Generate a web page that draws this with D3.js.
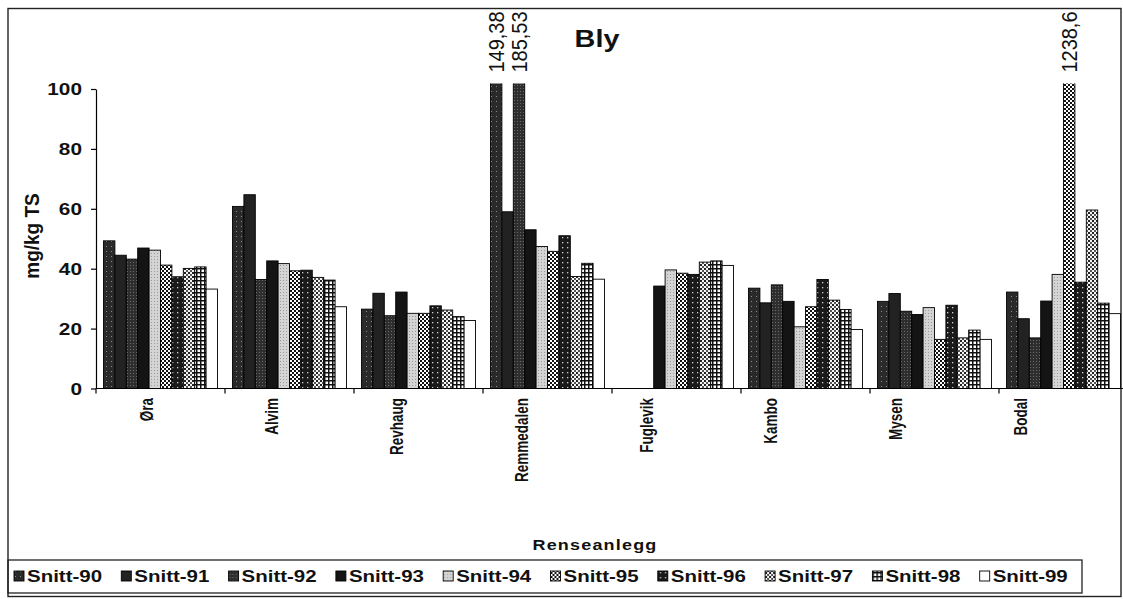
<!DOCTYPE html>
<html><head><meta charset="utf-8">
<script src="https://cdn.jsdelivr.net/npm/d3@7"></script>
<style>body{margin:0;background:#fff} svg{display:block} text{font-family:"Liberation Sans",Arial,Helvetica,sans-serif}</style>
</head><body><svg id="c" width="1123" height="599"></svg>
<script>
const categories = ["Øra","Alvim","Revhaug","Remmedalen","Fuglevik","Kambo","Mysen","Bodal"];
const seriesNames = ["Snitt-90","Snitt-91","Snitt-92","Snitt-93","Snitt-94","Snitt-95","Snitt-96","Snitt-97","Snitt-98","Snitt-99"];
const snitt90 = [49.3, 60.8, 26.5, 149.38, null, 33.5, 29.1, 32.2];
const snitt91 = [44.5, 64.7, 31.8, 59.0, null, 28.6, 31.7, 23.3];
const snitt92 = [43.2, 36.4, 24.3, 185.53, null, 34.6, 25.8, 16.9];
const snitt93 = [46.9, 42.6, 32.2, 53.0, 34.2, 29.1, 24.7, 29.2];
const snitt94 = [46.2, 41.7, 25.1, 47.4, 39.6, 20.6, 27.0, 38.1];
const snitt95 = [41.2, 39.3, 25.1, 45.8, 38.5, 27.3, 16.4, 1238.6];
const snitt96 = [37.3, 39.5, 27.6, 51.0, 38.1, 36.4, 27.8, 35.5];
const snitt97 = [40.1, 37.1, 26.2, 37.4, 42.2, 29.5, 16.9, 59.6];
const snitt98 = [40.6, 36.2, 24.0, 41.8, 42.6, 26.4, 19.5, 28.5];
const snitt99 = [33.2, 27.3, 22.7, 36.5, 41.1, 19.7, 16.4, 25.0];
const seriesValues = [snitt90,snitt91,snitt92,snitt93,snitt94,snitt95,snitt96,snitt97,snitt98,snitt99];
const yTicks = [0,20,40,60,80,100];
const yMax = 100;
const titleText = "Bly";
const yTitle = "mg/kg TS";
const xTitle = "Renseanlegg";

const svg = d3.select("#c");
const defs = svg.append("defs");

// patterns
function pat(id, w, h, bg, build){
  const p = defs.append("pattern").attr("id",id).attr("width",w).attr("height",h).attr("patternUnits","userSpaceOnUse");
  p.append("rect").attr("width",w).attr("height",h).attr("fill",bg);
  if(build) build(p);
}
pat("p90",5,5,"#2a2a2a",p=>{p.append("rect").attr("x",1).attr("y",1).attr("width",1).attr("height",1).attr("fill","#8a8a8a");});
pat("p91",4,4,"#222222");
pat("p92",3,3,"#2e2e2e",p=>{p.append("rect").attr("x",1).attr("y",1).attr("width",1).attr("height",1).attr("fill","#6a6a6a");});
pat("p93",4,4,"#141414");
pat("p94",3,3,"#d4d4d4",p=>{p.append("rect").attr("x",1).attr("y",1).attr("width",1).attr("height",1).attr("fill","#9a9a9a");});
pat("p95",4,4,"#ffffff",p=>{p.append("rect").attr("width",2).attr("height",2).attr("fill","#111");p.append("rect").attr("x",2).attr("y",2).attr("width",2).attr("height",2).attr("fill","#111");});
pat("p96",5,5,"#1a1a1a",p=>{p.append("rect").attr("x",2).attr("y",2).attr("width",1.3).attr("height",1.3).attr("fill","#cfcfcf");});
pat("p97",4,4,"#f4f4f4",p=>{p.append("rect").attr("width",2).attr("height",2).attr("fill","#222");p.append("rect").attr("x",2).attr("y",2).attr("width",2).attr("height",2).attr("fill","#555");});
pat("p98",4,4,"#ffffff",p=>{p.append("rect").attr("width",4).attr("height",1.5).attr("fill","#111");p.append("rect").attr("width",1.5).attr("height",4).attr("fill","#111");});
pat("p99",4,4,"#ffffff");
const fills = seriesNames.map((s,i)=>`url(#p${90+i})`);

const y = d3.scaleLinear().domain([0,yMax]).range([388.5,89]);
const x0 = d3.scaleBand().domain(categories).range([96,1128]).padding(0);
const x1 = d3.scaleBand().domain(seriesNames).range([7.5, x0.bandwidth()-7.5]).padding(0);
const xLab = d3.scalePoint().domain(categories).range([147,1021]);

const clipTop = y(101.8);
defs.append("clipPath").attr("id","plotclip").append("rect")
  .attr("x",96).attr("y",clipTop).attr("width",1100).attr("height",y(0)-clipTop+1);

// outer frame
svg.append("rect").attr("x",8).attr("y",8.5).attr("width",1113).attr("height",588).attr("fill","none").attr("stroke","#222").attr("stroke-width",1.4);

// bars
const rows = [];
categories.forEach((c,ci)=>seriesNames.forEach((s,si)=>{
  const v = seriesValues[si][ci];
  if(v!=null) rows.push({c,s,si,v});
}));
const barG = svg.append("g").attr("clip-path","url(#plotclip)");
barG.selectAll("rect").data(rows).join("rect")
  .attr("x",d=>x0(d.c)+x1(d.s))
  .attr("width",x1.bandwidth())
  .attr("y",d=>y(Math.min(d.v,105)))
  .attr("height",d=>y(0)-y(Math.min(d.v,105)))
  .attr("fill",d=>fills[d.si])
  .attr("stroke","#000").attr("stroke-width",0.9);

// overflow labels
rows.filter(d=>d.v>yMax).forEach(d=>{
  const cx = x0(d.c)+x1(d.s)+x1.bandwidth()/2;
  svg.append("text").attr("transform",`translate(${cx},${clipTop-11}) scale(1.1,1) rotate(-90)`)
    .attr("dy","0.35em").attr("text-anchor","start").attr("font-size",20).attr("fill","#111")
    .text(String(d.v).replace(".",","));
});

// y axis
const yAxis = svg.append("g").attr("transform","translate(96,0)")
  .call(d3.axisLeft(y).tickValues(yTicks).tickSize(5).tickSizeOuter(0));
yAxis.select(".domain").attr("stroke","#000").attr("stroke-width",1.2);
yAxis.selectAll(".tick line").attr("stroke","#000").attr("stroke-width",1.2);
yAxis.selectAll(".tick text").attr("x",0).attr("dy","0.36em")
  .attr("transform","translate(-14,0) scale(1.3,1)")
  .attr("font-size",16).attr("font-weight","bold").attr("fill","#111")
  .attr("font-family",'"Liberation Sans",Arial,sans-serif');

// x axis line and ticks
const xr = x0.range();
svg.append("line").attr("x1",xr[0]).attr("x2",xr[1]).attr("y1",y(0)).attr("y2",y(0)).attr("stroke","#000").attr("stroke-width",1.2);
categories.concat(["__end"]).forEach((c,i)=>{
  const xx = i<categories.length ? x0(c) : xr[1];
  svg.append("line").attr("x1",xx).attr("x2",xx).attr("y1",y(0)).attr("y2",y(0)+5).attr("stroke","#000").attr("stroke-width",1.2);
});
// category labels
svg.append("g").selectAll("text").data(categories).join("text")
  .attr("transform",d=>`translate(${xLab(d)},398) scale(1.3,1) rotate(-90)`)
  .attr("dy","0.35em").attr("text-anchor","end")
  .attr("font-size",13.5).attr("font-weight","bold").attr("fill","#111")
  .text(d=>d);

// titles
svg.append("text").attr("transform","translate(597,47) scale(1.2,1)").attr("text-anchor","middle")
  .attr("font-size",24).attr("font-weight","bold").attr("fill","#111").text(titleText);
svg.append("text").attr("transform","translate(32,236) scale(1.1,1) rotate(-90)").attr("text-anchor","middle").attr("dy","0.35em")
  .attr("font-size",19).attr("font-weight","bold").attr("fill","#111").text(yTitle);
svg.append("text").attr("transform","translate(595,550) scale(1.2,1)").attr("text-anchor","middle")
  .attr("font-size",15).attr("font-weight","bold").attr("letter-spacing",1).attr("fill","#111").text(xTitle);

// legend
svg.append("rect").attr("x",8).attr("y",560).attr("width",1074).attr("height",33).attr("fill","none").attr("stroke","#222").attr("stroke-width",1.3);
const lg = svg.append("g").selectAll("g").data(seriesNames).join("g")
  .attr("transform",(d,i)=>`translate(${14+i*107.3},0)`);
lg.append("rect").attr("x",0).attr("y",571).attr("width",10).attr("height",10)
  .attr("fill",(d,i)=>fills[i]).attr("stroke","#000").attr("stroke-width",0.9);
lg.append("text").attr("transform","translate(13,582) scale(1.28,1)")
  .attr("font-size",16).attr("font-weight","bold").attr("fill","#111").text(d=>d);
</script></body></html>
